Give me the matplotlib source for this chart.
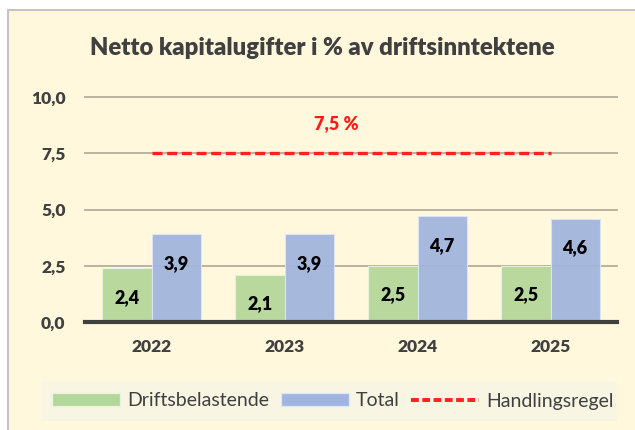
import numpy as np
import matplotlib.pyplot as plt
from matplotlib.patches import Rectangle, Patch
from matplotlib.lines import Line2D

years = ["2022", "2023", "2024", "2025"]
drift = [2.4, 2.1, 2.5, 2.5]
total = [3.9, 3.9, 4.7, 4.6]
limit = 7.5
yticks = [0, 2.5, 5, 7.5, 10]
ytick_labels = ["0,0", "2,5", "5,0", "7,5", "10,0"]

plt.rcParams['font.family'] = ['Lato', 'DejaVu Sans']

W, H = 635, 430
fig = plt.figure(figsize=(W / 100, H / 100), dpi=100, facecolor='white')

# chart area frame
fig.patches.append(Rectangle((8 / W, -0.05), 1.1, (H - 10) / H + 0.05,
                             transform=fig.transFigure, facecolor='#FFF8DC',
                             edgecolor='#C4C4C4', linewidth=1.5, zorder=-2))
# legend background
fig.patches.append(Rectangle((41 / W, 1 - 421 / H), (617 - 41) / W, 40 / H,
                             transform=fig.transFigure, facecolor='#F9F5E3',
                             edgecolor='none', zorder=-1))

ax = fig.add_axes([85 / W, (H - 322) / H, (617 - 85) / W, (322 - 97) / H])
ax.set_facecolor('none')

x = np.arange(len(years))
w = 0.37
green = '#B3D69A'
blue = '#9FB4DE'

for yv in yticks[1:]:
    ax.axhline(yv, color='#B5AD98', linewidth=1.3, zorder=1, clip_on=False)

ax.bar(x - w / 2, drift, w, color=green, edgecolor='#E8F2DE', linewidth=0.8,
       alpha=0.93, zorder=2)
ax.bar(x + w / 2, total, w, color=blue, edgecolor='#DDE6F6', linewidth=0.8,
       alpha=0.93, zorder=2)

for xi, v in zip(x - w / 2, drift):
    ax.text(xi, v - 1.3, f"{v:.1f}".replace('.', ','), ha='center', va='center',
            fontsize=13, fontweight='heavy', color='black', zorder=4)
for xi, v in zip(x + w / 2, total):
    ax.text(xi, v - 1.3, f"{v:.1f}".replace('.', ','), ha='center', va='center',
            fontsize=13, fontweight='heavy', color='black', zorder=4)

ax.plot([x[0], x[-1]], [limit, limit], color='#FF2020', linewidth=2.4,
        dashes=(3, 1.4), zorder=3)
ax.text(1.39, 8.8, "7,5 %", color='#FF1A1A', fontsize=13, fontweight='heavy',
        ha='center', va='center')

ax.axhline(0, color='#404040', linewidth=3, zorder=3, clip_on=False)

ax.set_xlim(-0.5, 3.5)
ax.set_ylim(0, 10)
ax.set_yticks(yticks)
ax.set_yticklabels(ytick_labels)
ax.set_xticks(x)
ax.set_xticklabels(years)
for s in ax.spines.values():
    s.set_visible(False)
ax.tick_params(axis='y', length=0, pad=14, labelsize=12.5, labelcolor='#404040')
ax.tick_params(axis='x', length=0, pad=12, labelsize=12.5, labelcolor='#404040')
for lab in ax.get_xticklabels() + ax.get_yticklabels():
    lab.set_fontweight('heavy')

fig.text(322 / W, 1 - 48 / H, "Netto kapitalugifter i % av driftsinntektene",
         ha='center', va='center', fontsize=17.2, fontweight='heavy', color='#404040')

handles = [Patch(facecolor=green, edgecolor='#E8F2DE'),
           Patch(facecolor=blue, edgecolor='#DDE6F6'),
           Line2D([0], [0], color='#FF2020', linewidth=2.8, dashes=(2.0, 0.9))]
fig.legend(handles, ["Driftsbelastende", "Total", "Handlingsregel"],
           loc='center', bbox_to_anchor=(333 / W, 1 - 401 / H), ncol=3,
           frameon=False, fontsize=14, handlelength=3.5, handleheight=0.6,
           handletextpad=0.36, columnspacing=0.6, labelcolor='#404040')

fig.savefig('out.png', dpi=100, facecolor='white')
